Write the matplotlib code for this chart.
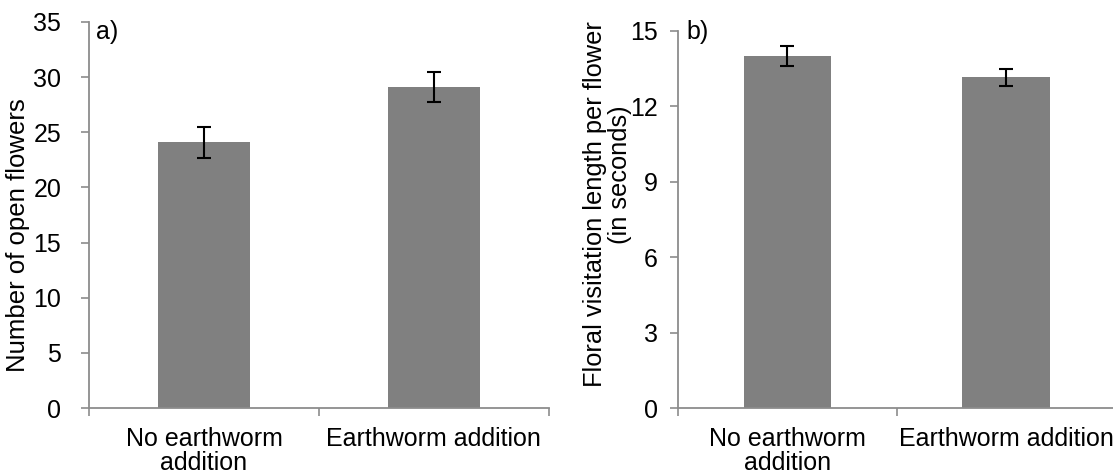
import matplotlib
matplotlib.use("Agg")
import matplotlib.pyplot as plt

plt.rcParams['font.family'] = ['Liberation Sans', 'DejaVu Sans']

categories = ["No earthworm\naddition", "Earthworm addition"]
flowers = [24.1, 29.1]
flowers_err = [1.4, 1.35]
visit = [14.0, 13.15]
visit_err = [0.38, 0.35]

fig = plt.figure(figsize=(11.13, 4.75), dpi=100)
ax1 = fig.add_axes([0.080, 0.141, 0.413, 0.813])
ax2 = fig.add_axes([0.609, 0.141, 0.3935, 0.794])

gray = "#8c8c8c"
FS = 18

def style(ax, vals, errs, ymax, step, tag, tagx, ypad):
    x = list(range(len(vals)))
    ax.bar(x, vals, width=0.4, color="#808080", zorder=2)
    ax.errorbar(x, vals, yerr=errs, fmt="none", ecolor="black", elinewidth=1.5,
                capsize=5, capthick=1.5, zorder=3)
    ax.set_xlim(-0.5, len(vals) - 0.5)
    ax.set_ylim(0, ymax)
    ax.set_yticks(range(0, ymax + 1, step))
    ax.set_xticks([i - 0.5 for i in range(len(vals) + 1)])
    ax.set_xticklabels([])
    ax.set_xticks(x, minor=True)
    ax.set_xticklabels(categories, minor=True, fontsize=18, linespacing=0.98)
    ax.tick_params(axis="x", which="minor", length=0, pad=14)
    ax.tick_params(axis="x", which="major", length=6, color=gray, width=1.2)
    ax.tick_params(axis="y", length=6, color=gray, width=1.2, labelsize=FS, pad=ypad)
    for s in ["top", "right"]:
        ax.spines[s].set_visible(False)
    for s in ["left", "bottom"]:
        ax.spines[s].set_color(gray)
        ax.spines[s].set_linewidth(1.3)
    fig.text(tagx, 1 - 20 / 475, tag, fontsize=FS, va="top", ha="left")

style(ax1, flowers, flowers_err, 35, 5, "a)", 96 / 1113, 14)
style(ax2, visit, visit_err, 15, 3, "b)", 686 / 1113, 8.5)

ax1.set_ylabel("Number of open flowers", fontsize=18.5)
ax1.yaxis.set_label_coords(30 / 1113, 1 - 235 / 475, transform=fig.transFigure)

fig.text(595 / 1113, 1 - 204 / 475, "Floral visitation length per flower",
         rotation=90, ha="center", va="center", fontsize=18.3)
fig.text(620 / 1113, 1 - 175 / 475, "(in seconds)",
         rotation=90, ha="center", va="center", fontsize=18.3)

fig.savefig("out.png", dpi=100)
